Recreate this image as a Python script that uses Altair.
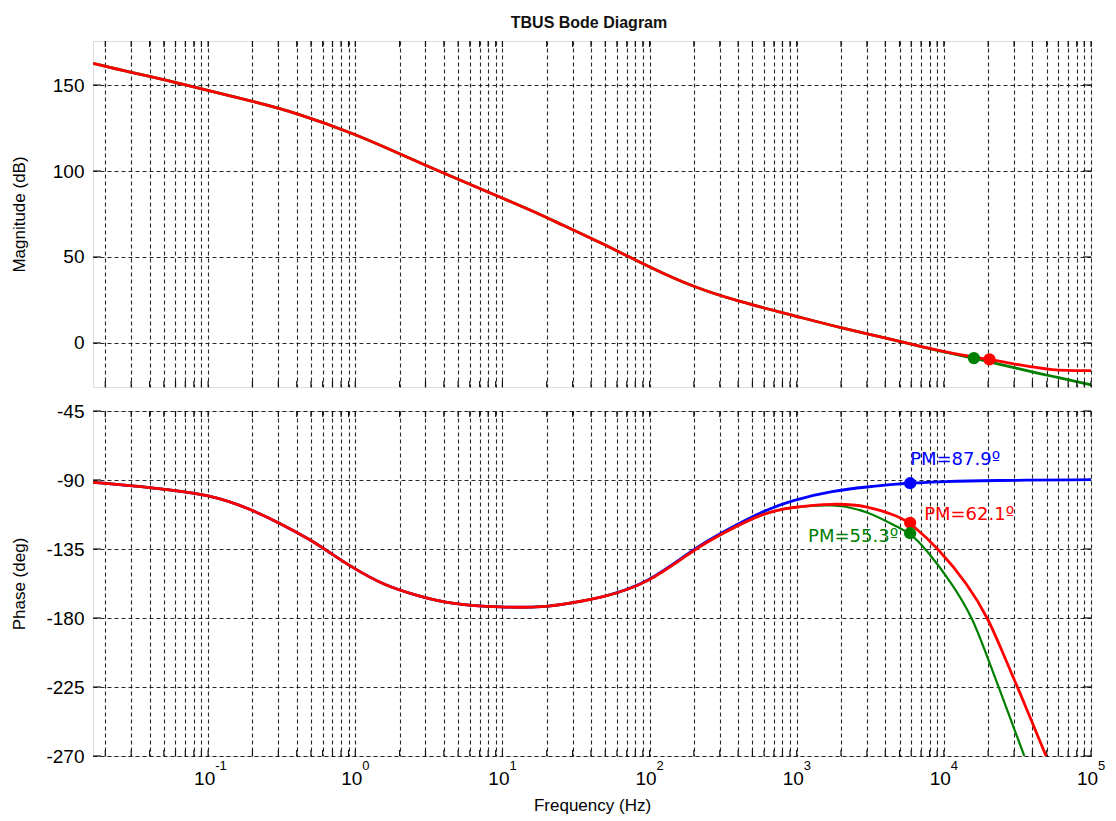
import altair as alt
import pandas as pd

# ---------------- data ----------------
# Magnitude (dB)
mag_common_f = [0.0165, 0.03, 0.05, 0.09, 0.2, 0.41, 1.0, 2.05, 3.84, 7.55, 16.5, 25, 47, 100, 197, 398, 1000, 2000, 4380, 8850]
mag_common_db = [162.6, 157.2, 153.3, 147.8, 140.6, 133.5, 121.5, 109.6, 99.3, 88.7, 76.3, 69.0, 58.2, 44.0, 32.6, 24.2, 15.5, 8.7, 2.3, -4.3]
mag_red_tail_f = [1.6e4, 2.04e4, 3.19e4, 5.35e4, 1e5]
mag_red_tail_db = [-8.3, -9.5, -12.6, -16.0, -16.1]
mag_green_tail_f = [1.2e4, 1.6e4, 3.19e4, 5.35e4, 1e5]
mag_green_tail_db = [-6.6, -8.8, -15.0, -19.2, -24.3]

mag_marker_f = [1.6e4, 2.04e4]
mag_marker_db = [-8.8, -9.5]
mag_marker_series = ["green", "red"]

# Phase (deg)
ph_common_f = [0.0165, 0.0411, 0.105, 0.196, 0.314, 0.502, 0.618, 0.94, 1.58, 2.67, 4.49, 9.8, 19.3, 30, 48]
ph_common_deg = [-91.5, -94.9, -99.5, -109.1, -118.6, -129.3, -135.0, -146.8, -158.9, -165.6, -171.1, -173.1, -173.1, -170.0, -166.6]
ph_red_f = [97, 202, 323, 600, 911, 1780, 3000, 5100, 5900, 9270, 1.45e4, 2.0e4, 2.52e4, 3.17e4, 4.95e4]
ph_red_deg = [-157.8, -135.0, -124.1, -111.2, -107.8, -105.2, -106.6, -114.3, -117.9, -135.0, -158.0, -180.0, -203.0, -225.0, -270.0]
ph_green_f = [97, 202, 323, 600, 911, 1780, 3000, 5100, 5900, 7570, 1.15e4, 1.57e4, 1.93e4, 2.36e4, 3.52e4]
ph_green_deg = [-157.8, -135.0, -124.1, -111.2, -107.8, -105.5, -109.9, -121.9, -124.7, -135.0, -158.0, -180.0, -203.0, -225.0, -270.0]
ph_blue_f = [97, 202, 323, 600, 911, 1780, 3000, 5100, 5900, 1e4, 2e4, 1e5]
ph_blue_deg = [-157.5, -134.5, -123.3, -110.0, -103.4, -97.0, -94.5, -92.4, -92.1, -91.0, -90.3, -89.8]

pm_f = [5900, 5900, 5900]
pm_deg = [-92.1, -117.9, -124.7]
pm_series = ["blue", "red", "green"]
pm_text = ["PM=87.9º", "PM=62.1º", "PM=55.3º"]

decade_exp = [-1, 0, 1, 2, 3, 4, 5]
decade_exp_text = ["-1", "0", "1", "2", "3", "4", "5"]

mag_ticks = [0, 50, 100, 150]
phase_ticks = [-270, -225, -180, -135, -90, -45]

title_text = "TBUS Bode Diagram"

COLORS = {"red": "#ff0000", "green": "#008000", "blue": "#0000ff"}
FONT = "Liberation Sans"

# ---------------- tables ----------------
mag_red = pd.DataFrame({"f": mag_common_f + mag_red_tail_f, "v": mag_common_db + mag_red_tail_db})
mag_green = pd.DataFrame({"f": mag_common_f + mag_green_tail_f, "v": mag_common_db + mag_green_tail_db})
mag_mk = pd.DataFrame({"f": mag_marker_f, "v": mag_marker_db, "s": mag_marker_series})

ph_red = pd.DataFrame({"f": ph_common_f + ph_red_f, "v": ph_common_deg + ph_red_deg})
ph_green = pd.DataFrame({"f": ph_common_f + ph_green_f, "v": ph_common_deg + ph_green_deg})
ph_blue = pd.DataFrame({"f": ph_common_f + ph_blue_f, "v": ph_common_deg + ph_blue_deg})
ph_mk = pd.DataFrame({"f": pm_f, "v": pm_deg, "s": pm_series})

exp_df = pd.DataFrame({"f": [10.0 ** e for e in decade_exp], "t": decade_exp_text})

# grid positions (1..9 x 10^k)
XMIN, XMAX = 0.0165, 1e5
minor = []
for k in range(-2, 5):
    for m in range(1, 10):
        v = m * 10.0 ** k
        if XMIN <= v <= XMAX:
            minor.append(v)
minor.append(1e5)
minor_df = pd.DataFrame({"f": minor})

W = 998
H_TOP = 346
H_BOT = 345

xscale = alt.Scale(type="log", domain=[XMIN, XMAX], nice=False)
color_scale = alt.Scale(domain=list(COLORS.keys()), range=list(COLORS.values()))

grid_kw = dict(grid=True, gridDash=[4, 3], gridColor="#111111", gridWidth=1.1, gridOpacity=0.9)

x_top_axis = alt.Axis(values=minor, labels=False, ticks=False, domain=False, title=None,
                      minExtent=0, maxExtent=0, **grid_kw)
x_bot_axis = alt.Axis(
    values=minor,
    labelExpr="abs(log(datum.value)/LN10 - round(log(datum.value)/LN10)) < 0.001 ? '10' : ''",
    labelFont=FONT, labelFontSize=19, labelColor="#000000", labelPadding=13, labelOffset=-4,
    labelFlush=False, labelOverlap=False, ticks=False, domain=False,
    title="Frequency (Hz)", titleFont=FONT, titleFontSize=17, titleFontWeight="normal",
    titleColor="#000000", titlePadding=9, **grid_kw,
)


def y_axis(vals, title, h):
    return alt.Axis(
        values=vals, labelExpr="'' + datum.value", labelFont=FONT, labelFontSize=19,
        labelColor="#000000", labelPadding=9,
        ticks=False, domain=False, title=title, titleFont=FONT, titleFontSize=17,
        titleFontWeight="normal", titleColor="#000000", titleX=-74, titleY=h / 2,
        titleBaseline="middle", titleAlign="center", **grid_kw,
    )


def line(df, color, width=2.8):
    return alt.Chart(df).mark_line(color=color, strokeWidth=width, clip=True, interpolate="basis")


def frame_ticks(h, yvals, ysc):
    """small solid inward ticks along the frame, like the reference box."""
    xs = alt.X("f:Q", scale=xscale)
    bottom_t = alt.Chart(minor_df).mark_rule(color="#111111", strokeWidth=1.2).encode(
        x=xs, y=alt.value(h), y2=alt.value(h - 6))
    top_t = alt.Chart(minor_df).mark_rule(color="#111111", strokeWidth=1.2).encode(
        x=xs, y=alt.value(0), y2=alt.value(6))
    ydf = pd.DataFrame({"v": yvals})
    ys = alt.Y("v:Q", scale=ysc)
    left_t = alt.Chart(ydf).mark_rule(color="#111111", strokeWidth=1.2).encode(
        y=ys, x=alt.value(0), x2=alt.value(8))
    right_t = alt.Chart(ydf).mark_rule(color="#111111", strokeWidth=1.2).encode(
        y=ys, x=alt.value(W), x2=alt.value(W - 8))
    return [bottom_t, top_t, left_t, right_t]


# ---------------- top: magnitude ----------------
top_scale = alt.Scale(domain=[-25.6, 175.6], nice=False, zero=False)
ytop = alt.Y("v:Q", scale=top_scale, axis=y_axis(mag_ticks, "Magnitude (dB)", H_TOP))
xt = alt.X("f:Q", scale=xscale, axis=x_top_axis)

top = alt.layer(
    line(mag_green, COLORS["green"]).encode(x=xt, y=ytop),
    *frame_ticks(H_TOP, mag_ticks, top_scale),
    line(mag_red, COLORS["red"]).encode(x=xt, y=ytop),
    alt.Chart(mag_mk).mark_circle(size=150, opacity=1, clip=True).encode(
        x=xt, y=ytop, color=alt.Color("s:N", scale=color_scale, legend=None)),
    alt.Chart(pd.DataFrame({"t": [title_text]})).mark_text(
        font=FONT, fontSize=16, fontWeight="bold", color="#111111", align="center",
        baseline="alphabetic").encode(text="t:N", x=alt.value(496), y=alt.value(-13)),
).properties(width=W, height=H_TOP)

# ---------------- bottom: phase ----------------
bot_scale = alt.Scale(domain=[-270, -45], nice=False, zero=False)
ybot = alt.Y("v:Q", scale=bot_scale, axis=y_axis(phase_ticks, "Phase (deg)", H_BOT))
xb = alt.X("f:Q", scale=xscale, axis=x_bot_axis)

pm_layers = []
pm_style = [(0, -23, "left"), (14, -8, "left"), (-12, 4, "right")]
for i, (dx, dy, al) in enumerate(pm_style):
    d = pd.DataFrame({"f": [pm_f[i]], "v": [pm_deg[i]], "t": [pm_text[i]]})
    pm_layers.append(
        alt.Chart(d).mark_text(font="DejaVu Sans", fontSize=18, color=COLORS[pm_series[i]],
                               align=al, baseline="middle", dx=dx, dy=dy).encode(
            x=xb, y=ybot, text="t:N"))

bottom = alt.layer(
    *frame_ticks(H_BOT, phase_ticks, bot_scale),
    line(ph_blue, COLORS["blue"]).encode(x=xb, y=ybot),
    line(ph_green, COLORS["green"], 2.2).encode(x=xb, y=ybot),
    line(ph_red, COLORS["red"]).encode(x=xb, y=ybot),
    alt.Chart(ph_mk).mark_circle(size=150, opacity=1, clip=True).encode(
        x=xb, y=ybot, color=alt.Color("s:N", scale=color_scale, legend=None)),
    *pm_layers,
    alt.Chart(exp_df).mark_text(font=FONT, fontSize=13, color="#000000", align="left",
                                baseline="middle", dx=7).encode(
        x=alt.X("f:Q", scale=xscale), y=alt.value(H_BOT + 10), text="t:N"),
).properties(width=W, height=H_BOT)

chart = alt.vconcat(top, bottom, spacing=12).properties(
    padding={"left": 9, "top": 14, "right": 5, "bottom": 5}
).configure_view(stroke="#222222", strokeWidth=2).configure(background="white")

chart.save("out.html", embed_options={"renderer": "svg", "actions": False})
